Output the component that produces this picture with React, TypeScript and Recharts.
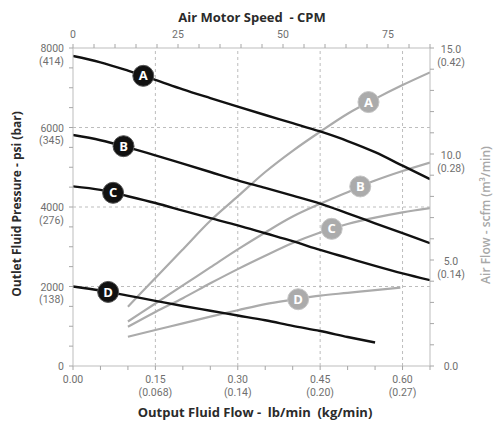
import React from 'react';
import { LineChart, Line, XAxis, YAxis, ReferenceLine, ReferenceDot } from 'recharts';

// ---- data: outlet fluid pressure (psi) vs output fluid flow (lb/min)
const psiFlow = [0, 0.05, 0.1, 0.15, 0.2, 0.25, 0.3, 0.35, 0.4, 0.45, 0.5, 0.55, 0.6, 0.65];
const psiA = [7800, 7640, 7430, 7200, 6960, 6740, 6525, 6315, 6110, 5900, 5660, 5380, 5040, 4700];
const psiB = [5810, 5680, 5500, 5300, 5090, 4880, 4670, 4480, 4285, 4085, 3840, 3590, 3340, 3090];
const psiC = [4520, 4430, 4270, 4100, 3910, 3720, 3540, 3340, 3140, 2920, 2720, 2520, 2330, 2160];
const psiDFlow = [0, 0.05, 0.1, 0.15, 0.2, 0.25, 0.3, 0.35, 0.4, 0.45, 0.5, 0.55];
const psiD = [2000, 1900, 1770, 1640, 1510, 1390, 1270, 1150, 1010, 880, 730, 590];

// ---- data: air flow (scfm) vs output fluid flow (lb/min)
const airFlow = [0.1, 0.15, 0.2, 0.25, 0.3, 0.35, 0.4, 0.45, 0.5, 0.55, 0.6, 0.65];
const airA = [2.8, 4.15, 5.5, 6.85, 8.0, 9.15, 10.15, 11.05, 11.9, 12.6, 13.25, 13.85];
const airB = [2.1, 2.95, 3.8, 4.65, 5.5, 6.3, 7.05, 7.65, 8.2, 8.75, 9.2, 9.6];
const airC = [1.85, 2.55, 3.2, 3.9, 4.57, 5.2, 5.8, 6.3, 6.7, 7.0, 7.25, 7.45];
const airDFlow = [0.1, 0.15, 0.2, 0.25, 0.3, 0.35, 0.4, 0.45, 0.5, 0.55, 0.596];
const airD = [1.38, 1.7, 2.01, 2.33, 2.63, 2.92, 3.13, 3.32, 3.45, 3.58, 3.7];

// ---- curve labels
const curveNames = ['A', 'B', 'C', 'D'];
const psiLabelFlow = [0.128, 0.092, 0.073, 0.064];
const psiLabelValue = [7300, 5530, 4357, 1864];
const airLabelFlow = [0.538, 0.523, 0.471, 0.41];
const airLabelValue = [12.45, 8.47, 6.47, 3.15];

// ---- ticks
const flowTicks = [0, 0.05, 0.1, 0.15, 0.2, 0.25, 0.3, 0.35, 0.4, 0.45, 0.5, 0.55, 0.6, 0.65];
const flowMajor = [0, 0.15, 0.3, 0.45, 0.6];
const flowMajorLabels = ['0.00', '0.15', '0.30', '0.45', '0.60'];
const flowKgLabels = ['', '(0.068)', '(0.14)', '(0.20)', '(0.27)'];
const flowGrid = [0.15, 0.3, 0.45, 0.6];

const cpmTicks = [0, 5, 10, 15, 20, 25, 30, 35, 40, 45, 50, 55, 60, 65, 70, 75, 80, 85];
const cpmMajor = [0, 25, 50, 75];

const psiTicks = [0, 500, 1000, 1500, 2000, 2500, 3000, 3500, 4000, 4500, 5000, 5500, 6000, 6500, 7000, 7500, 8000];
const psiMajor = [0, 2000, 4000, 6000, 8000];
const psiBarLabels = ['', '(138)', '(276)', '(345)', '(414)'];
const psiGrid = [2000, 4000, 6000];

const scfmTicks = [0, 1, 2, 3, 4, 5, 6, 7, 8, 9, 10, 11, 12, 13, 14, 15];
const scfmMajor = [0, 5, 10, 15];
const scfmMajorLabels = ['0.0', '5.0', '10.0', '15.0'];
const scfmM3Labels = ['', '(0.14)', '(0.28)', '(0.42)'];

const zip = (xs: number[], ys: number[]) => xs.map((x, i) => ({ x, v: ys[i] }));

const FONT = '"Open Sans", sans-serif';
const TICK_FONT = 'Roboto, sans-serif';
const TICK_COLOR = '#6f6f6f';
const AXIS_COLOR = '#bdbdbd';
const TICKLINE_COLOR = '#a6a6a6';
const BLACK = '#111111';
const GREY = '#ababab';
const FS = 10.5;
const LINE_GAP = 12.5;

const LeftTick = (props: any) => {
  const { x, y, payload } = props;
  const i = psiMajor.indexOf(payload.value);
  if (i < 0) return <g />;
  const tx = x - 3;
  const y1 = y + 4;
  return (
    <g>
      <text x={tx} y={y1} textAnchor="end" fill={TICK_COLOR} fontSize={FS} fontFamily={TICK_FONT}>
        {String(psiMajor[i])}
      </text>
      {psiBarLabels[i] ? (
        <text x={tx} y={y1 + LINE_GAP} textAnchor="end" fill={TICK_COLOR} fontSize={FS} fontFamily={TICK_FONT}>
          {psiBarLabels[i]}
        </text>
      ) : null}
    </g>
  );
};

const RightTick = (props: any) => {
  const { x, y, payload } = props;
  const i = scfmMajor.indexOf(payload.value);
  if (i < 0) return <g />;
  const tx = x + 15;
  const y1 = y + (i === 0 ? 4 : 5);
  return (
    <g>
      <text x={tx} y={y1} textAnchor="middle" fill={TICK_COLOR} fontSize={FS} fontFamily={TICK_FONT}>
        {scfmMajorLabels[i]}
      </text>
      {scfmM3Labels[i] ? (
        <text x={tx} y={y1 + LINE_GAP} textAnchor="middle" fill={TICK_COLOR} fontSize={FS} fontFamily={TICK_FONT}>
          {scfmM3Labels[i]}
        </text>
      ) : null}
    </g>
  );
};

const BottomTick = (props: any) => {
  const { x, y, payload } = props;
  const i = flowMajor.indexOf(payload.value);
  if (i < 0) return <g />;
  const y1 = y + 11;
  return (
    <g>
      <text x={x} y={y1} textAnchor="middle" fill={TICK_COLOR} fontSize={FS} fontFamily={TICK_FONT}>
        {flowMajorLabels[i]}
      </text>
      {flowKgLabels[i] ? (
        <text x={x} y={y1 + LINE_GAP} textAnchor="middle" fill={TICK_COLOR} fontSize={FS} fontFamily={TICK_FONT}>
          {flowKgLabels[i]}
        </text>
      ) : null}
    </g>
  );
};

const TopTick = (props: any) => {
  const { x, y, payload } = props;
  const i = cpmMajor.indexOf(payload.value);
  if (i < 0) return <g />;
  return (
    <text x={x} y={y - 4} textAnchor="middle" fill={TICK_COLOR} fontSize={FS} fontFamily={TICK_FONT}>
      {String(cpmMajor[i])}
    </text>
  );
};

const psiSeries = [zip(psiFlow, psiA), zip(psiFlow, psiB), zip(psiFlow, psiC), zip(psiDFlow, psiD)];
const airSeries = [zip(airFlow, airA), zip(airFlow, airB), zip(airFlow, airC), zip(airDFlow, airD)];

const title = (text: string, cx: number, cy: number, rotate: boolean, extra: React.CSSProperties = {}) => (
  <div
    style={{
      position: 'absolute',
      left: cx,
      top: cy,
      transform: `translate(-50%, -50%)${rotate ? ' rotate(-90deg)' : ''}`,
      whiteSpace: 'pre',
      lineHeight: 1,
      fontFamily: FONT,
      fontWeight: 700,
      fontSize: 13,
      color: '#2b2b2b',
      ...extra,
    }}
  >
    {text}
  </div>
);

const tickLineStyle = { stroke: TICKLINE_COLOR };

export default function App() {
  return (
    <div style={{ position: 'absolute', left: 0, top: 0, width: 495, height: 421, background: '#fff' }}>
      <LineChart width={495} height={421} margin={{ top: 18, right: 20, bottom: 15, left: 28 }}>
        <XAxis
          xAxisId="flow"
          dataKey="x"
          type="number"
          orientation="bottom"
          domain={[0, 0.65]}
          ticks={flowTicks}
          interval={0}
          height={40}
          tickSize={4}
          tickMargin={2}
          stroke={AXIS_COLOR}
          tickLine={tickLineStyle}
          tick={<BottomTick />}
          allowDataOverflow
        />
        <XAxis
          xAxisId="cpm"
          dataKey="x"
          type="number"
          orientation="top"
          domain={[0, 85]}
          ticks={cpmTicks}
          interval={0}
          height={30}
          tickSize={4}
          tickMargin={2}
          stroke={AXIS_COLOR}
          tickLine={tickLineStyle}
          tick={<TopTick />}
          allowDataOverflow
        />
        <YAxis
          yAxisId="psi"
          type="number"
          orientation="left"
          domain={[0, 8000]}
          ticks={psiTicks}
          interval={0}
          width={45}
          tickSize={4}
          tickMargin={2}
          stroke={AXIS_COLOR}
          tickLine={tickLineStyle}
          tick={<LeftTick />}
          allowDataOverflow
        />
        <YAxis
          yAxisId="scfm"
          type="number"
          orientation="right"
          domain={[0, 15]}
          ticks={scfmTicks}
          interval={0}
          width={45}
          tickSize={4}
          tickMargin={2}
          stroke={AXIS_COLOR}
          tickLine={tickLineStyle}
          tick={<RightTick />}
          allowDataOverflow
        />
        {flowGrid.map((g) => (
          <ReferenceLine key={'vx' + g} xAxisId="flow" yAxisId="psi" x={g} stroke={AXIS_COLOR} strokeDasharray="3 3" />
        ))}
        {psiGrid.map((g) => (
          <ReferenceLine key={'hy' + g} xAxisId="flow" yAxisId="psi" y={g} stroke={AXIS_COLOR} strokeDasharray="3 3" />
        ))}
        {airSeries.map((d, i) => (
          <Line
            key={'air' + i}
            data={d}
            xAxisId="flow"
            yAxisId="scfm"
            dataKey="v"
            type="monotone"
            stroke={GREY}
            strokeWidth={2.2}
            dot={false}
            isAnimationActive={false}
          />
        ))}
        {psiSeries.map((d, i) => (
          <Line
            key={'psi' + i}
            data={d}
            xAxisId="flow"
            yAxisId="psi"
            dataKey="v"
            type="monotone"
            stroke={BLACK}
            strokeWidth={2.4}
            dot={false}
            isAnimationActive={false}
          />
        ))}
        {curveNames.map((n, i) => (
          <ReferenceDot
            key={'al' + n}
            xAxisId="flow"
            yAxisId="scfm"
            x={airLabelFlow[i]}
            y={airLabelValue[i]}
            r={10.5}
            fill={GREY}
            stroke="#c4c4c4"
            strokeWidth={1}
            label={{ value: n, position: 'center', fill: '#ffffff', fontSize: 13, fontWeight: 700, fontFamily: FONT }}
          />
        ))}
        {curveNames.map((n, i) => (
          <ReferenceDot
            key={'pl' + n}
            xAxisId="flow"
            yAxisId="psi"
            x={psiLabelFlow[i]}
            y={psiLabelValue[i]}
            r={10.5}
            fill={BLACK}
            stroke="#555"
            strokeWidth={1}
            label={{ value: n, position: 'center', fill: '#ffffff', fontSize: 13, fontWeight: 700, fontFamily: FONT }}
          />
        ))}
      </LineChart>
      {title('Air Motor Speed  - CPM', 252, 17, false)}
      {title('Output Fluid Flow -  lb/min  (kg/min)', 255, 412, false)}
      {title('Outlet Fluid Pressure - psi (bar)', 17, 204, true, { fontSize: 12 })}
      {title('Air Flow - scfm (m\u00B3/min)', 486, 215, true, { fontSize: 12, fontWeight: 600, color: '#a8a8a8' })}
    </div>
  );
}
